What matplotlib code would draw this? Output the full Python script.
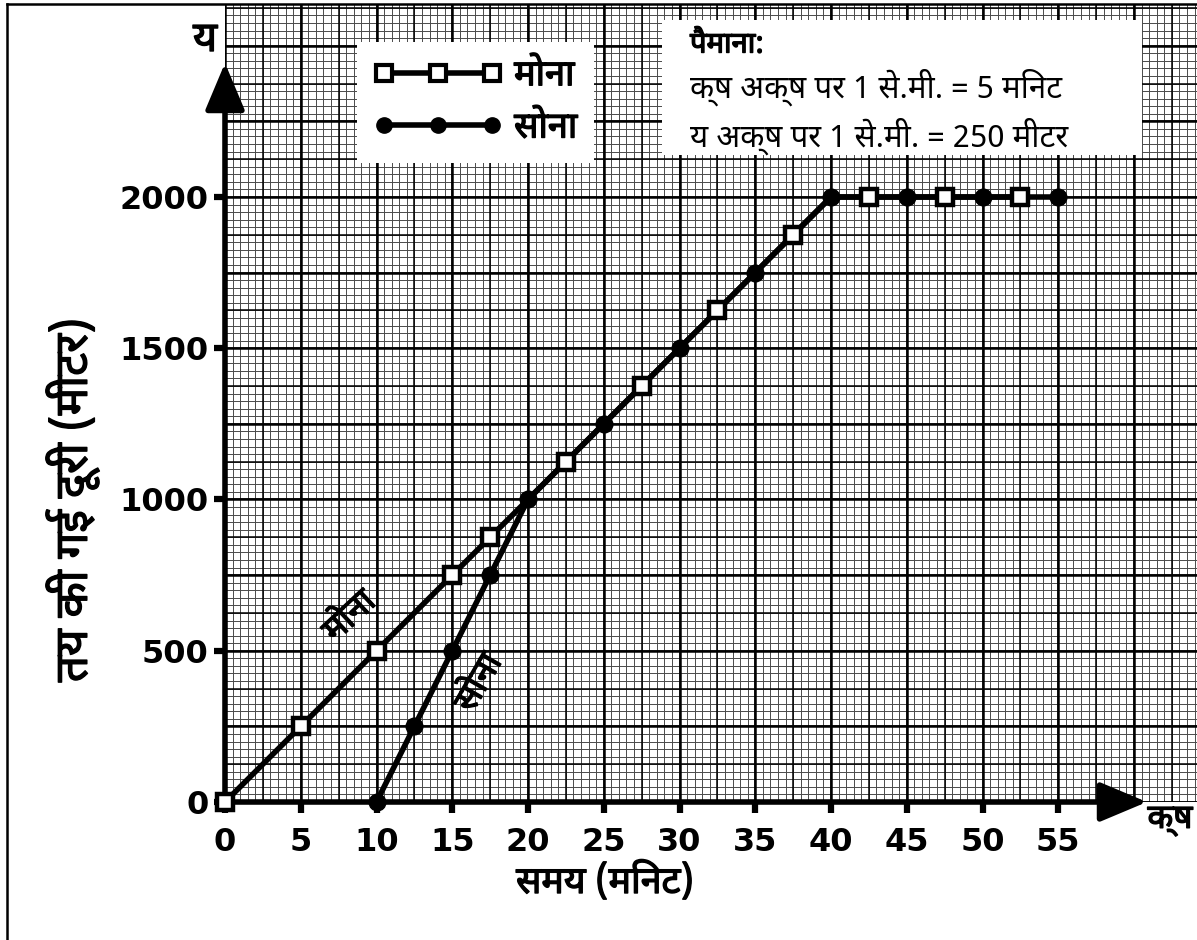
import numpy as np
import matplotlib
matplotlib.use("Agg")
import matplotlib.pyplot as plt
from matplotlib import font_manager as fm
from matplotlib.ft2font import FT2Font
from matplotlib.patches import Rectangle
from matplotlib.lines import Line2D
import matplotlib.patheffects as pe

# ---------------- data ----------------
mona_time = [0, 5, 10, 15, 17.5, 20, 22.5, 27.5, 32.5, 37.5, 40, 42.5, 47.5, 52.5]
mona_dist = [0, 250, 500, 750, 875, 1000, 1125, 1375, 1625, 1875, 2000, 2000, 2000, 2000]
mona_marked = [1, 1, 1, 1, 1, 0, 1, 1, 1, 1, 0, 1, 1, 1]
sona_time = [10, 12.5, 15, 17.5, 20, 25, 30, 35, 40, 45, 50, 55]
sona_dist = [0, 250, 500, 750, 1000, 1250, 1500, 1750, 2000, 2000, 2000, 2000]
x_ticks = [0, 5, 10, 15, 20, 25, 30, 35, 40, 45, 50, 55]
y_ticks = [0, 500, 1000, 1500, 2000]
series_names = ["मोना", "सोना"]
x_label = "समय (मिनट)"
y_label = "तय की गई दूरी (मीटर)"
x_axis_name = "क्ष"
y_axis_name = "य"
scale_title = "पैमाना:"
scale_lines = ["क्ष अक्ष पर 1 से.मी. = 5 मिनट", "य अक्ष पर 1 से.मी. = 250 मीटर"]

# ---------------- fonts ----------------
def find_devanagari():
    fams = {}
    seen = set()
    for f in fm.fontManager.ttflist:
        if f.fname in seen:
            continue
        seen.add(f.fname)
        try:
            cm = FT2Font(f.fname).get_charmap()
        except Exception:
            continue
        if all(c in cm for c in (0x0915, 0x0928, 0x092E, 0x093E)):
            fams.setdefault(f.name, set()).add(f.weight)
    pref = ["Noto Sans Devanagari", "Lohit Devanagari", "FreeSans", "Mukta",
            "Hind", "Poppins", "Mangal", "Gargi"]
    for p in pref:
        if p in fams:
            return p, fams[p]
    if fams:
        k = sorted(fams)[0]
        return k, fams[k]
    return "DejaVu Sans", {400, 700}

DEV, DEV_WEIGHTS = find_devanagari()
FAM = [DEV, "DejaVu Sans"]
HAS_BOLD = any((w if isinstance(w, int) else 400) >= 600 for w in DEV_WEIGHTS)
BOLD_FX = [] if HAS_BOLD else [pe.withStroke(linewidth=1.0, foreground="black")]

W, H = 1197, 940
fig = plt.figure(figsize=(W / 100, H / 100), dpi=100)

def fx(x):
    return x / W

def fy(y):
    return 1 - y / H

def btext(x, y, s, **kw):
    t = fig.text(fx(x), fy(y), s, family=FAM, weight="bold", **kw)
    t.set_path_effects(BOLD_FX)
    return t

# axes: origin at pixel (225, 802); 15.15 px / minute ; 0.3025 px / metre
x0, y0 = 225, 802
ppm = 15.15
ppd = 0.3025
xmax = (W - x0) / ppm
ymax = (y0 - 4) / ppd
ax = fig.add_axes([fx(x0), fy(y0), (W - x0) / W, (y0 - 4) / H])
ax.set_xlim(0, xmax)
ax.set_ylim(0, ymax)
for s in ax.spines.values():
    s.set_visible(False)

# graph paper
xs_minor = np.arange(0, xmax, 0.5)
ys_minor = np.arange(0, ymax, 25)
ax.vlines(xs_minor, 0, ymax, color="#4a4a4a", lw=0.7, zorder=0)
ax.hlines(ys_minor, 0, xmax, color="#4a4a4a", lw=0.7, zorder=0)
ax.vlines(np.arange(0, xmax, 2.5), 0, ymax, color="black", lw=1.1, zorder=0)
ax.hlines(np.arange(0, ymax, 125), 0, xmax, color="black", lw=1.1, zorder=0)
ax.vlines(np.arange(0, xmax, 5), 0, ymax, color="black", lw=1.8, zorder=0)
ax.hlines(np.arange(0, ymax, 250), 0, xmax, color="black", lw=1.8, zorder=0)

# axes with arrows
tip_y = (y0 - 63) / ppd
tip_x = (1147 - x0) / ppm
arrow_style = "-|>,head_length=1.0,head_width=0.42"
ax.annotate("", xy=(0, tip_y), xytext=(0, 0), annotation_clip=False,
            arrowprops=dict(arrowstyle=arrow_style, lw=4, color="black",
                            mutation_scale=29, shrinkA=0, shrinkB=0), zorder=5)
ax.annotate("", xy=(tip_x, 0), xytext=(0, 0), annotation_clip=False,
            arrowprops=dict(arrowstyle=arrow_style, lw=4, color="black",
                            mutation_scale=29, shrinkA=0, shrinkB=0), zorder=5)

# ticks
ax.set_xticks(x_ticks)
ax.set_yticks(y_ticks)
ax.tick_params(axis="both", direction="out", length=8, width=4.5, color="black")
ax.tick_params(axis="x", pad=10)
ax.tick_params(axis="y", pad=4)
for lab in ax.get_xticklabels() + ax.get_yticklabels():
    lab.set_fontsize(23)
    lab.set_fontweight("bold")
    lab.set_family("DejaVu Sans")

# data lines
mt = np.array(mona_time)
md = np.array(mona_dist)
mk = np.array(mona_marked, dtype=bool)
ax.plot(mt, md, color="black", lw=4, zorder=6, clip_on=False)
ax.plot(mt[mk], md[mk], ls="none", marker="s", ms=12, mfc="white", mec="black",
        mew=3.2, zorder=8, clip_on=False)
ax.plot(sona_time, sona_dist, color="black", lw=4, marker="o", ms=12,
        mfc="black", mec="black", zorder=7, clip_on=False)

# legend
h1 = Line2D([], [], color="black", lw=4, marker="s", ms=11, mfc="white", mec="black", mew=3)
h2 = Line2D([], [], color="black", lw=4, marker="o", ms=11, mfc="black", mec="black")
leg = ax.legend([h1, h2], series_names, loc="upper left",
                bbox_to_anchor=(fx(357), fy(42)), bbox_transform=fig.transFigure,
                numpoints=3, handlelength=3.6, handletextpad=0.3,
                labelspacing=0.45, borderaxespad=0, borderpad=0.45,
                frameon=True, fancybox=False, framealpha=1,
                prop=dict(family=FAM, weight="bold", size=26))
leg.get_frame().set_edgecolor("none")
leg.get_frame().set_facecolor("white")
leg.set_zorder(20)
for t in leg.get_texts():
    t.set_path_effects(BOLD_FX)

# scale box
fig.patches.append(Rectangle((fx(662), fy(155)), (1142 - 662) / W, (155 - 20) / H,
                             transform=fig.transFigure, facecolor="white",
                             edgecolor="none", zorder=3))
btext(690, 45, scale_title, fontsize=21, va="center", ha="left", zorder=4)
fig.text(fx(690), fy(87), scale_lines[0], family=FAM, fontsize=22.5,
         va="center", ha="left", zorder=4)
fig.text(fx(690), fy(136), scale_lines[1], family=FAM, fontsize=22.5,
         va="center", ha="left", zorder=4)

# on-line annotations
t1 = ax.text(8.25, 612, series_names[0], family=FAM, weight="bold", fontsize=25,
             rotation=43, ha="center", va="center", zorder=9)
t2 = ax.text(16.8, 393, series_names[1], family=FAM, weight="bold", fontsize=25,
             rotation=60, ha="center", va="center", zorder=9)
t1.set_path_effects(BOLD_FX)
t2.set_path_effects(BOLD_FX)

# axis names and labels
btext(205, 40, y_axis_name, fontsize=30, ha="center", va="center")
btext(1170, 820, x_axis_name, fontsize=24, ha="center", va="center")
btext(605, 863, x_label, fontsize=27, ha="center", va="top")
btext(72, 500, y_label, fontsize=33, rotation=90, ha="center", va="center")

# page border (left and top)
fig.add_artist(Line2D([fx(7), fx(7)], [0, fy(4)], transform=fig.transFigure,
                      color="black", lw=1.8))
fig.add_artist(Line2D([fx(7), 1], [fy(4), fy(4)], transform=fig.transFigure,
                      color="black", lw=1.8))

fig.savefig("out.png", dpi=100, facecolor="white")
